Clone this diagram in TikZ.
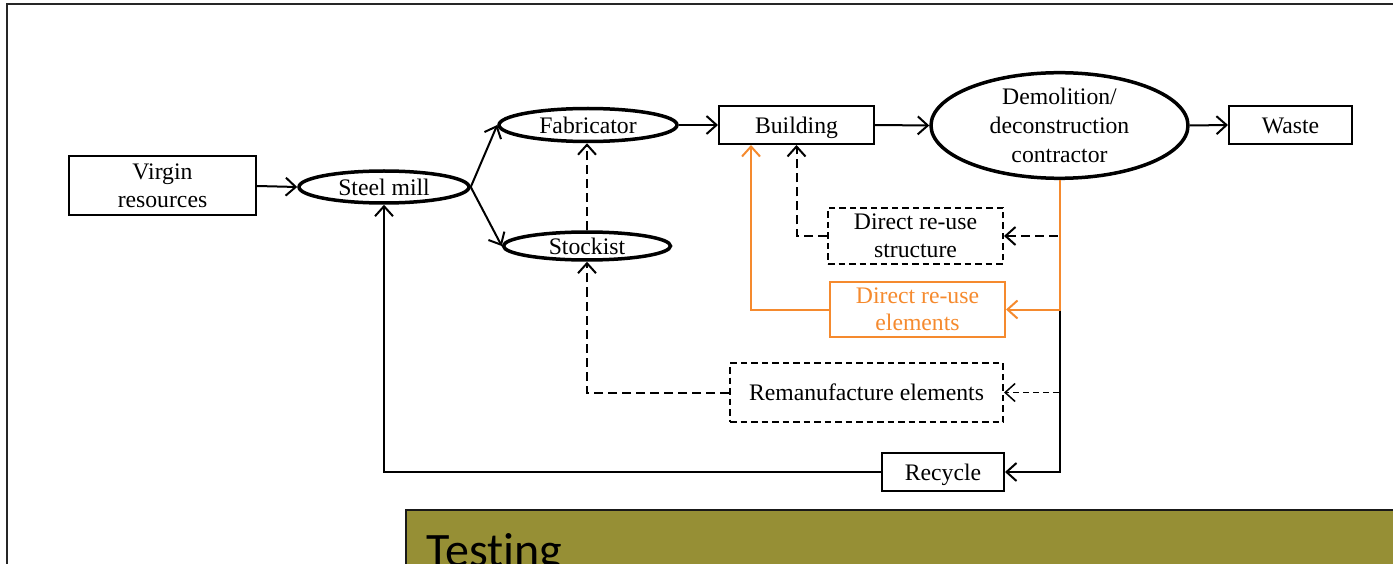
\documentclass[tikz,border=0pt]{standalone}
\usepackage{fontspec}
\setmainfont{Liberation Serif}
\newfontfamily\testfont{Carlito}[Ligatures={NoCommon}]
\usetikzlibrary{shapes.geometric,arrows.meta}
\definecolor{orng}{RGB}{245,138,46}
\definecolor{olivebg}{RGB}{150,143,53}
\tikzset{
  txt/.style={font=\fontsize{23.7}{27.5}\selectfont, align=center, inner sep=0pt},
  one/.style={text height=16.5pt, text depth=0pt},
  box/.style={txt, draw, line width=2pt, rectangle},
  dbox/.style={box, dash pattern=on 6.5pt off 4pt},
  obox/.style={box, draw=orng, text=orng},
  ell/.style={txt, draw, ellipse, line width=3.5pt},
  conn/.style={line width=2pt, -{Straight Barb[length=10pt,width=18pt,line width=2pt]}},
  dconn/.style={conn, dash pattern=on 9pt off 5pt},
  tconn/.style={line width=1.5pt, dash pattern=on 6pt off 4pt, -{Straight Barb[length=10pt,width=18pt,line width=1.5pt]}},
  oconn/.style={conn, draw=orng},
}
\begin{document}
\begin{tikzpicture}[x=1pt,y=1pt]
\useasboundingbox (0,0) rectangle (1393,-564);
\clip (0,0) rectangle (1393,-564);
% frame
\draw[line width=1.6pt, black!85] (7,-620) -- (7,-4) -- (1420,-4);
% olive panel
\draw[fill=olivebg, line width=2pt, draw=black!90] (406,-620) rectangle (1420,-510);
\node[anchor=base west, inner sep=0pt, font=\testfont\fontsize{48}{52}\selectfont] (testing) at (426,-566) {Testing};

% nodes
\node[box, minimum width=187pt, minimum height=59pt] (virgin) at (162.5,-186) {Virgin\\resources};
\node[ell, one, minimum width=170pt, minimum height=32pt] (steel) at (384,-187) {Steel mill};
\node[ell, one, minimum width=178pt, minimum height=33pt] (fab) at (588,-125) {Fabricator};
\node[ell, one, minimum width=167pt, minimum height=28pt] (stock) at (587,-246) {Stockist};
\node[box, one, minimum width=155pt, minimum height=38pt] (build) at (796.5,-125) {Building};
\node[ell, minimum width=257pt, minimum height=95pt, font=\fontsize{23.7}{29}\selectfont] (demo) at (1059.5,-125.5) {Demolition/\\deconstruction\\contractor};
\node[box, one, minimum width=123pt, minimum height=38pt] (waste) at (1290.5,-125) {Waste};
\node[dbox, minimum width=175pt, minimum height=56pt] (struct) at (915.5,-236) {Direct re-use\\structure};
\node[obox, minimum width=175pt, minimum height=55pt] (elem) at (917.5,-309.5) {Direct re-use\\elements};
\node[dbox, one, minimum width=273pt, minimum height=59pt] (reman) at (866.5,-392.5) {Remanufacture elements};
\node[box, one, minimum width=122pt, minimum height=38pt] (recycle) at (943,-472) {Recycle};

% connectors
\draw[conn] (virgin.east) -- (steel.west);
\draw[conn] (steel.east) -- (fab.west);
\draw[conn] (steel.east) -- (stock.west);
\draw[conn] (fab.east) -- (build.west);
\draw[conn] (build.east) -- (demo.west);
\draw[conn] (demo.east) -- (waste.west);
\draw[dconn] (stock.north) -- (stock.north |- fab.south);
\draw[dconn] (struct.west) -| (build.south);
\draw[oconn] (elem.west) -| ([xshift=33pt]build.south west);
\draw[dconn] (reman.west) -| (stock.south);
\draw[conn] (recycle.west) -| (steel.south);

\coordinate (jelem) at (demo.south |- elem.east);
\draw[dconn] ([xshift=-2pt]demo.south |- struct.east) -- (struct.east);
\draw[tconn] ([xshift=-1pt]demo.south |- reman.east) -- (reman.east);
\draw[conn] (jelem) |- (recycle.east);
\draw[oconn] (demo.south) |- (elem.east);
\end{tikzpicture}
\end{document}
